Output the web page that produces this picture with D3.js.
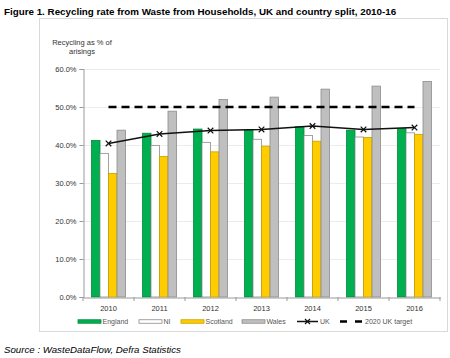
<!DOCTYPE html>
<html>
<head>
<meta charset="utf-8">
<script src="https://cdn.jsdelivr.net/npm/d3@7/dist/d3.min.js"></script>
<style>
  body { margin: 0; background: #fff; }
  svg { font-family: "Liberation Sans", Arial, sans-serif; }
</style>
</head>
<body>
<svg id="chart" width="450" height="358"></svg>
<script>
// data
var years = ["2010", "2011", "2012", "2013", "2014", "2015", "2016"];
var england  = [41.2, 43.1, 44.2, 43.9, 44.8, 43.9, 44.3];
var ni       = [37.8, 39.9, 40.7, 41.5, 42.5, 42.1, 43.2];
var scotland = [32.5, 37.0, 38.2, 39.7, 41.0, 42.0, 42.8];
var wales    = [43.9, 48.9, 52.0, 52.6, 54.7, 55.5, 56.7];
var uk       = [40.4, 42.9, 43.8, 44.1, 45.0, 44.1, 44.6];
var target   = [50, 50, 50, 50, 50, 50, 50];
var yTicks   = [0, 10, 20, 30, 40, 50, 60];

var series = [
  { name: "England",  values: england,  fill: "#00b050", stroke: "#008a3c" },
  { name: "NI",       values: ni,       fill: "#ffffff", stroke: "#8c8c8c" },
  { name: "Scotland", values: scotland, fill: "#ffcc00", stroke: "#c9a000" },
  { name: "Wales",    values: wales,    fill: "#bfbfbf", stroke: "#8c8c8c" }
];

var svg = d3.select("#chart");

// title
svg.append("text")
  .attr("x", 4).attr("y", 15)
  .attr("font-size", 9.8).attr("font-weight", "bold")
  .text("Figure 1. Recycling rate from Waste from Households, UK and country split, 2010-16");

// chart frame
svg.append("rect")
  .attr("x", 39.5).attr("y", 18.5).attr("width", 408).attr("height", 313)
  .attr("fill", "#fff").attr("stroke", "#d9d9d9");

var pLeft = 83, pRight = 440, pTop = 69, pBottom = 297;

var x = d3.scaleBand().domain(years).range([pLeft, pRight]);
var y = d3.scaleLinear().domain([0, 60]).range([pBottom, pTop]);
var barW = x.bandwidth() / 6;   // gap width 200%
var inner = d3.scaleBand().domain(series.map(function(s) { return s.name; }))
  .range([barW, barW * 5]);

// gridlines
svg.append("g").selectAll("line").data(yTicks.slice(1)).enter().append("line")
  .attr("x1", pLeft).attr("x2", pRight)
  .attr("y1", function(d) { return y(d) + 0.5; })
  .attr("y2", function(d) { return y(d) + 0.5; })
  .attr("stroke", "#ececec");

// y axis
var yAxis = svg.append("g")
  .attr("transform", "translate(" + (pLeft + 0.5) + ",0)")
  .call(d3.axisLeft(y).tickValues(yTicks).tickSize(4)
    .tickFormat(function(d) { return d.toFixed(1) + "%"; }));
yAxis.select(".domain").attr("stroke", "#999");
yAxis.selectAll(".tick line").attr("stroke", "#999");
yAxis.selectAll("text").attr("font-size", 7.5).attr("fill", "#333")
  .attr("font-family", "Liberation Sans, Arial, sans-serif").attr("x", -7);

// bars
series.forEach(function(s) {
  svg.append("g").selectAll("rect").data(s.values).enter().append("rect")
    .attr("x", function(d, i) { return x(years[i]) + inner(s.name); })
    .attr("y", function(d) { return y(d); })
    .attr("width", inner.bandwidth())
    .attr("height", function(d) { return pBottom - y(d); })
    .attr("fill", s.fill)
    .attr("stroke", s.stroke).attr("stroke-width", 0.8);
});

// x axis
var xAxis = svg.append("g")
  .attr("transform", "translate(0," + (pBottom + 0.5) + ")")
  .call(d3.axisBottom(x).tickSize(0).tickPadding(8));
xAxis.select(".domain").attr("stroke", "#999");
xAxis.selectAll("text").attr("font-size", 7.5).attr("fill", "#333")
  .attr("font-family", "Liberation Sans, Arial, sans-serif");
svg.append("g").selectAll("line").data(d3.range(years.length + 1)).enter().append("line")
  .attr("x1", function(i) { return pLeft + i * x.step(); })
  .attr("x2", function(i) { return pLeft + i * x.step(); })
  .attr("y1", pBottom).attr("y2", pBottom + 4)
  .attr("stroke", "#999");

var cx = function(d, i) { return x(years[i]) + x.bandwidth() / 2; };

// 2020 target
svg.append("path")
  .attr("d", d3.line().x(cx).y(function(d) { return y(d); })(target))
  .attr("fill", "none").attr("stroke", "#000").attr("stroke-width", 2.5)
  .attr("stroke-dasharray", "8,5");

// UK line
svg.append("path")
  .attr("d", d3.line().x(cx).y(function(d) { return y(d); })(uk))
  .attr("fill", "none").attr("stroke", "#111").attr("stroke-width", 1.5);
svg.append("g").selectAll("path").data(uk).enter().append("path")
  .attr("transform", function(d, i) { return "translate(" + cx(d, i) + "," + y(d) + ")"; })
  .attr("d", d3.symbol().type(d3.symbolX).size(22))
  .attr("fill", "none").attr("stroke", "#111").attr("stroke-width", 1.2);

// legend
var ly = 321.5;
var legend = svg.append("g").attr("font-size", 7).attr("fill", "#555");
var boxX = [78, 139, 181, 242];
series.forEach(function(s, i) {
  legend.append("rect")
    .attr("x", boxX[i]).attr("y", ly - 1.75).attr("width", 23).attr("height", 3.5)
    .attr("fill", s.fill).attr("stroke", s.stroke).attr("stroke-width", 0.8);
  legend.append("text").attr("x", boxX[i] + 24.5).attr("y", ly + 2.5).text(s.name);
});
legend.append("line").attr("x1", 297).attr("x2", 318).attr("y1", ly).attr("y2", ly)
  .attr("stroke", "#111").attr("stroke-width", 1.5);
legend.append("path").attr("transform", "translate(307.5," + ly + ")")
  .attr("d", d3.symbol().type(d3.symbolX).size(18))
  .attr("fill", "none").attr("stroke", "#111").attr("stroke-width", 1.2);
legend.append("text").attr("x", 320).attr("y", ly + 2.5).text("UK");
legend.append("line").attr("x1", 340).attr("x2", 363).attr("y1", ly).attr("y2", ly)
  .attr("stroke", "#000").attr("stroke-width", 2.5).attr("stroke-dasharray", "7,8");
legend.append("text").attr("x", 365).attr("y", ly + 2.5).text("2020 UK target");

// y title
var yt = svg.append("text").attr("font-size", 7.5).attr("fill", "#333")
  .attr("text-anchor", "middle");
yt.append("tspan").attr("x", 82).attr("y", 45).text("Recycling as % of");
yt.append("tspan").attr("x", 82).attr("y", 54).text("arisings");

// source
svg.append("text")
  .attr("x", 4).attr("y", 353)
  .attr("font-size", 9.7).attr("font-style", "italic")
  .text("Source : WasteDataFlow, Defra Statistics");
</script>
</body>
</html>
